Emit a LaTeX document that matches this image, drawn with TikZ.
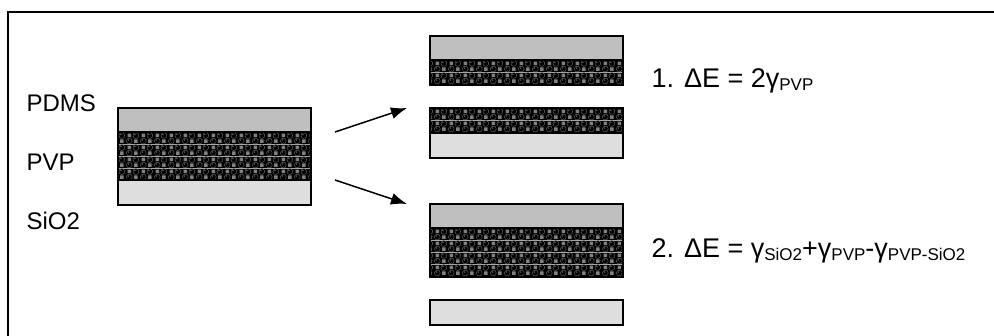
\documentclass[tikz,border=0pt]{standalone}
\usepackage{fontspec}
\setmainfont{Liberation Sans}
\usetikzlibrary{positioning,patterns,arrows.meta}

\pgfdeclarepatterninherentlycolored{pvp balls}
{\pgfpointorigin}{\pgfqpoint{14pt}{12pt}}
{\pgfqpoint{14pt}{12pt}}
{
  \pgfsetfillcolor{black}
  \pgfpathrectangle{\pgfpointorigin}{\pgfqpoint{14pt}{12pt}}
  \pgfusepath{fill}
  \pgfsetfillcolor{black!50}
  \pgfpathrectangle{\pgfqpoint{8.6pt}{1.2pt}}{\pgfqpoint{3.8pt}{3.8pt}}
  \pgfpathrectangle{\pgfqpoint{1.6pt}{7.2pt}}{\pgfqpoint{3.8pt}{3.8pt}}
  \pgfusepath{fill}
  \pgfsetfillcolor{black}
  \pgfsetstrokecolor{black!55}
  \pgfsetlinewidth{0.4pt}
  \pgfpathcircle{\pgfqpoint{3.5pt}{3.1pt}}{3.1pt}
  \pgfpathcircle{\pgfqpoint{10.5pt}{9.0pt}}{3.1pt}
  \pgfusepath{fill,stroke}
  \pgfsetfillcolor{black!45}
  \pgfpathcircle{\pgfqpoint{2.5pt}{4.2pt}}{0.7pt}
  \pgfpathcircle{\pgfqpoint{9.5pt}{10.1pt}}{0.7pt}
  \pgfusepath{fill}
}

\newcommand{\sub}[1]{\raisebox{-2.5pt}{\fontsize{17}{17}\selectfont #1}}

\begin{document}
\begin{tikzpicture}[x=1pt, y=-1pt, >={Latex[length=16pt,width=12pt]},
    layer/.style={draw, line width=1.6pt, minimum width=193pt, inner sep=0pt, outer sep=0pt},
    pdms/.style={layer, fill=black!25, minimum height=24pt},
    pvp/.style={layer, pattern=pvp balls, minimum height=#1},
    pvp/.default=25pt,
    sio2/.style={layer, fill=black!13, minimum height=25pt},
    lbl/.style={anchor=base west, font=\fontsize{24}{28}\selectfont},
    eq/.style={anchor=base west, font=\fontsize{27}{31}\selectfont}]
    \useasboundingbox (0,0) rectangle (994,336);
    \draw[line width=1.6pt] (8,336) -- (8,12) -- (994,12);

    \node[lbl] (Lp) at (23,112) {PDMS};
    \node[lbl] (Lv) at (23,171) {PVP};
    \node[lbl] (Ls) at (23,230) {SiO2};

    \node[pdms] (P0) at (214.5,120) {};
    \node[pvp=48pt, below=0pt of P0] (V0) {};
    \node[sio2, below=0pt of V0] (S0) {};

    \node[pdms] (P1) at (526.5,48) {};
    \node[pvp, below=0pt of P1] (V1) {};
    \node[pvp, below=23pt of V1] (V2) {};
    \node[sio2, below=0pt of V2] (S2) {};

    \node[pdms, below=46pt of S2] (P3) {};
    \node[pvp=49pt, below=0pt of P3] (V3) {};
    \node[sio2, below=23pt of V3] (S4) {};

    \node[eq] (E1) at (648,88) {1. ΔE = 2γ\sub{PVP}};
    \node[eq] (E2) at (648,258) {2. ΔE = γ\sub{SiO2}+γ\sub{PVP}-γ\sub{PVP-SiO2}};

    \draw[->, line width=1.5pt] ([xshift=24pt]P0.south east) -- ([xshift=-23pt]V2.north west);
    \draw[->, line width=1.5pt] ([xshift=24pt]V0.south east) -- ([xshift=-23pt]P3.north west);
\end{tikzpicture}
\end{document}
